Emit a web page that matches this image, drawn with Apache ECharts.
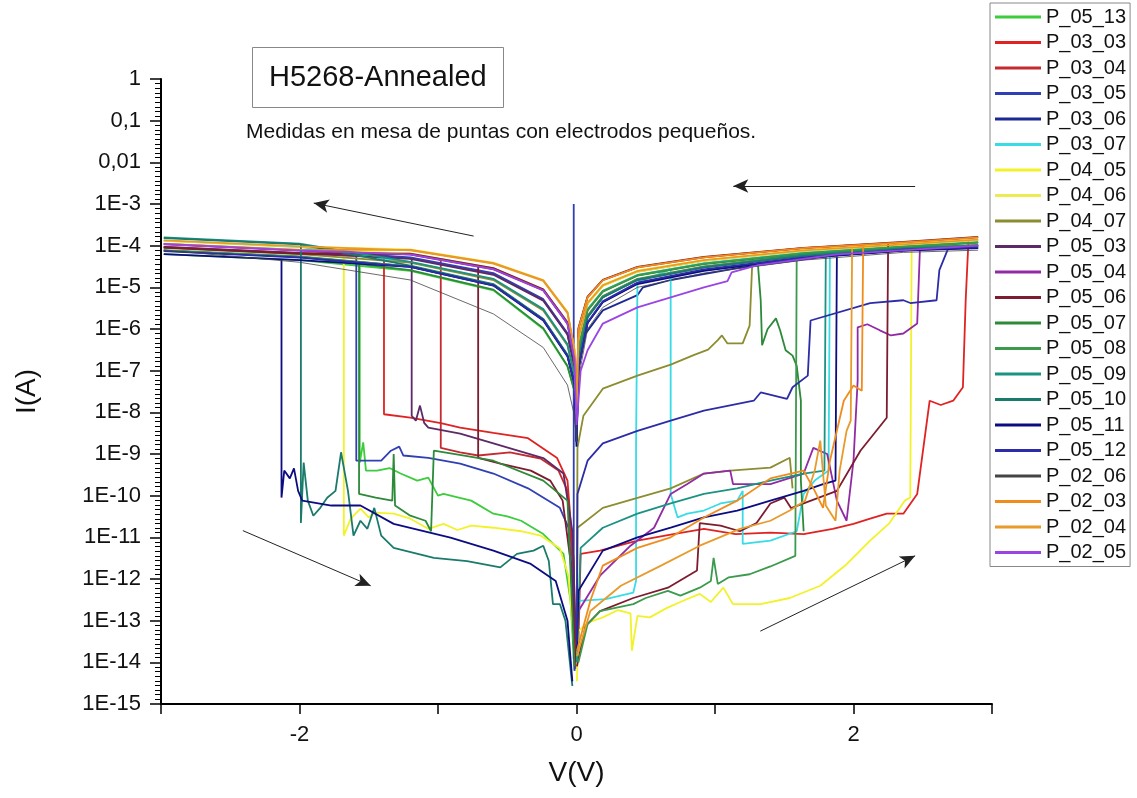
<!DOCTYPE html>
<html><head><meta charset="utf-8">
<script src="https://cdn.jsdelivr.net/npm/echarts@6/dist/echarts.min.js"></script>
<style>html,body{margin:0;padding:0;background:#fff}#c{width:1137px;height:798px}</style>
</head><body><div id="c"></div>
<script>
// ---------- names, ticks ----------
const seriesNames = ['P_05_13','P_03_03','P_03_04','P_03_05','P_03_06','P_03_07','P_04_05','P_04_06','P_04_07','P_05_03','P_05_04','P_05_06','P_05_07','P_05_08','P_05_09','P_05_10','P_05_11','P_05_12','P_02_06','P_02_03','P_02_04','P_02_05'];
const yTickLabels = ['1E-15','1E-14','1E-13','1E-12','1E-11','1E-10','1E-9','1E-8','1E-7','1E-6','1E-5','1E-4','1E-3','0,01','0,1','1'];
const xTickLabels = ['', '-2', '', '0', '', '2', ''];   // for V = -3 .. 3

// ---------- high-current branches (V grid shared) ----------
const hiV = [-2.98,-2,-1.2,-0.6,-0.24,-0.065,-0.015,0,0.014,0.08,0.19,0.44,0.92,1.64,2.36,2.9];
const hi_P_05_13 = [6.3e-5,4.5e-5,2.5e-5,8.5e-6,1.0e-6,1.26e-7,3.2e-8,3e-9,3.3e-7,2.9e-6,8.1e-6,1.95e-5,3.7e-5,6.6e-5,9.5e-5,1.2e-4];
const hi_P_03_03 = [9.1e-5,6.5e-5,5.0e-5,2.1e-5,5.0e-6,7.6e-7,1.26e-7,5e-9,5.75e-7,4.1e-6,1.1e-5,2.4e-5,4.4e-5,7.6e-5,1.07e-4,1.38e-4];
const hi_P_03_04 = [9.4e-5,6.7e-5,6.3e-5,2.8e-5,8.7e-6,1.38e-6,2.0e-7,8e-9,1.0e-6,5.75e-6,1.48e-5,3.0e-5,5.25e-5,8.7e-5,1.2e-4,1.58e-4];
const hi_P_03_05 = [1.10e-4,7.8e-5,5.2e-5,2.2e-5,5.2e-6,7.9e-7,1.3e-7,4e-9,1.9e-7,2.0e-6,6.0e-6,1.55e-5,3.1e-5,5.9e-5,8.7e-5,1.02e-4];
const hiPts_P_03_06 = [[-2.98,7.6e-5],[-2,5.4e-5],[-1.2,3.2e-5],[-0.6,1.15e-5],[-0.24,1.7e-6],[-0.065,2.3e-7],[-0.015,5.0e-8],[0,2e-9],[0.014,5.7e-8],[0.03,5.4e-7],[0.19,2.8e-6],[0.44,6.5e-6],[0.48,1e-5],[0.68,1.5e-5],[1.16,2.9e-5],[1.88,5.9e-5],[2.9,1.0e-4]];
const hi_P_03_07 = [1.32e-4,9.3e-5,4.0e-5,1.55e-5,2.95e-6,4.2e-7,7.9e-8,5e-9,3.4e-7,3.0e-6,8.3e-6,2.0e-5,3.8e-5,6.8e-5,9.7e-5,1.22e-4];
const hi_P_04_05 = [1.12e-4,8.0e-5,6.5e-5,2.9e-5,9.0e-6,1.42e-6,2.1e-7,1e-8,6.0e-7,4.3e-6,1.15e-5,2.5e-5,4.5e-5,7.8e-5,1.1e-4,1.4e-4];
const hi_P_04_06 = [1.3e-4,9.5e-5,8.1e-5,3.9e-5,1.5e-5,2.6e-6,3.3e-7,1.1e-8,5.6e-7,4.0e-6,1.08e-5,2.35e-5,4.3e-5,7.5e-5,1.05e-4,1.36e-4];
const hi_P_04_07 = [8.9e-5,6.3e-5,3.9e-5,1.5e-5,2.8e-6,4.0e-7,7.6e-8,4e-9,2.0e-7,2.1e-6,6.2e-6,1.6e-5,3.2e-5,6.0e-5,8.9e-5,1.04e-4];
const hi_P_05_03 = [9.3e-5,6.6e-5,4.8e-5,2.0e-5,4.8e-6,7.3e-7,1.2e-7,3e-9,1.1e-7,1.41e-6,4.5e-6,1.26e-5,2.6e-5,5.1e-5,7.8e-5,8.9e-5];
const hi_P_05_04 = [1.08e-4,7.6e-5,6.1e-5,2.7e-5,8.4e-6,1.32e-6,1.9e-7,5e-9,1.85e-7,1.95e-6,5.8e-6,1.5e-5,3.0e-5,5.8e-5,8.5e-5,1.0e-4];
const hi_P_05_06 = [9.0e-5,6.4e-5,6.4e-5,2.9e-5,9.0e-6,1.45e-6,2.1e-7,1e-8,1.05e-6,6.0e-6,1.52e-5,3.1e-5,5.4e-5,8.9e-5,1.23e-4,1.62e-4];
const hi_P_05_07 = [7.6e-5,5.4e-5,2.6e-5,8.8e-6,1.05e-6,1.3e-7,3.3e-8,2e-9,3.2e-7,2.8e-6,7.9e-6,1.9e-5,3.6e-5,6.4e-5,9.3e-5,1.18e-4];
const hi_P_05_08 = [7.8e-5,5.5e-5,3.2e-5,1.15e-5,1.7e-6,2.3e-7,5.0e-8,3e-9,3.3e-7,2.9e-6,8.1e-6,1.95e-5,3.7e-5,6.6e-5,9.5e-5,1.2e-4];
const hi_P_05_09 = [1.58e-4,1.12e-4,4.1e-5,1.6e-5,3.0e-6,4.3e-7,8.0e-8,3e-9,1.9e-7,2.0e-6,6.0e-6,1.55e-5,3.1e-5,5.9e-5,8.7e-5,1.02e-4];
const hi_P_05_10 = [1.52e-4,1.08e-4,3.3e-5,1.2e-5,1.75e-6,2.4e-7,5.2e-8,2e-9,1.8e-7,1.9e-6,5.7e-6,1.5e-5,3.0e-5,5.7e-5,8.5e-5,9.9e-5];
const hi_P_05_11 = [6.3e-5,4.5e-5,3.1e-5,1.1e-5,1.6e-6,2.2e-7,4.8e-8,1.5e-9,1.1e-7,1.4e-6,4.4e-6,1.2e-5,2.5e-5,5.0e-5,7.6e-5,8.7e-5];
const hi_P_05_12 = [7.4e-5,5.2e-5,3.1e-5,1.12e-5,1.65e-6,2.25e-7,4.9e-8,2e-9,1.15e-7,1.45e-6,4.6e-6,1.3e-5,2.7e-5,5.2e-5,8.0e-5,9.1e-5];
const hi_P_02_06 = [7.8e-5,4.0e-5,1.5e-5,2.3e-6,3.6e-7,4.5e-8,8.3e-9,2e-9,6.3e-8,1.0e-6,3.3e-6,1.0e-5,2.2e-5,4.5e-5,6.9e-5,7.8e-5];
const hi_P_02_03 = [1.1e-4,7.9e-5,7.9e-5,3.8e-5,1.48e-5,2.5e-6,3.2e-7,1e-8,1.0e-6,5.75e-6,1.48e-5,3.0e-5,5.25e-5,8.7e-5,1.2e-4,1.58e-4];
const hi_P_02_04 = [1.34e-4,9.6e-5,7.7e-5,3.7e-5,1.42e-5,2.4e-6,3.1e-7,9e-9,5.9e-7,4.2e-6,1.12e-5,2.45e-5,4.5e-5,7.7e-5,1.08e-4,1.39e-4];
const hiPts_P_02_05 = [[-2.98,1.1e-4],[-2,7.7e-5],[-1.2,6.2e-5],[-0.6,2.75e-5],[-0.24,8.5e-6],[-0.065,1.35e-6],[-0.015,1.9e-7],[0,5e-9],[0.014,1.9e-8],[0.03,1e-7],[0.08,3.1e-7],[0.19,1.35e-6],[0.44,3.3e-6],[0.92,1e-5],[1.09,1.4e-5],[1.12,2.3e-5],[1.31,3.4e-5],[1.88,6.2e-5],[2.9,1.0e-4]];

// ---------- low-current segments with switching jumps [V, I] ----------
const lowL_P_05_13 = [[-1.565,3.4e-5],[-1.565,6.2e-10],[-1.54,1.9e-9],[-1.52,4e-10],[-1.44,4e-10],[-1.35,4.6e-10],[-1.27,3.4e-10],[-1.15,2.3e-10],[-1.07,2.7e-10],[-1.0,1e-10],[-0.96,1.1e-10],[-0.85,9e-11],[-0.76,7.6e-11],[-0.6,3.7e-11],[-0.5,3.2e-11],[-0.4,2.5e-11],[-0.24,1.2e-11],[-0.094,4e-12],[-0.043,3e-13],[-0.014,6.3e-15]];
const lowL_P_03_03 = [[-1.39,5.3e-5],[-1.39,9e-9],[-1.2,7.5e-9],[-0.98,5.5e-9],[-0.84,4.3e-9],[-0.6,3.2e-9],[-0.35,2.4e-9],[-0.14,8e-10],[-0.065,2.3e-10],[-0.02,2.7e-12],[-0.007,1e-14]];
const lowR_P_03_03 = [[0.014,3e-14],[0.03,4e-12],[0.17,4.8e-12],[0.44,8.3e-12],[0.7,1.2e-11],[0.92,1.6e-11],[1.15,1.2e-11],[1.4,1.3e-11],[1.64,1.2e-11],[1.85,1.6e-11],[2.0,2.1e-11],[2.12,2.8e-11],[2.24,3.7e-11],[2.36,3.7e-11],[2.46,1.1e-10],[2.55,1.9e-8],[2.63,1.5e-8],[2.72,1.9e-8],[2.79,4e-8],[2.81,4.9e-6],[2.83,1.3e-4]];
const lowL_P_03_04 = [[-0.98,4.7e-5],[-0.98,1.4e-9],[-0.84,1.1e-9],[-0.71,9.2e-10],[-0.48,1.1e-9],[-0.26,7.8e-10],[-0.13,4e-10],[-0.065,1.3e-10],[-0.03,2.7e-12],[-0.007,7e-15]];
const lowL_P_03_05 = [[-1.59,6.3e-5],[-1.59,6.9e-10],[-1.41,6.9e-10],[-1.34,1.2e-9],[-1.28,1.5e-9],[-1.25,9.2e-10],[-1.07,8.1e-10],[-0.84,5.9e-10],[-0.6,3.4e-10],[-0.35,1.5e-10],[-0.12,5.1e-11],[-0.058,1.7e-11],[-0.03,9e-13],[-0.014,6.3e-15]];
const spike_P_03_05 = [[-0.02,1.2e-14],[-0.02,1e-3]];
const lowR_P_03_07 = [[0.014,3e-13],[0.21,3.3e-13],[0.41,4.7e-13],[0.43,9e-13],[0.43,1.6e-9],[0.44,1.3e-5],[0.68,2.7e-5],[0.68,1.1e-10],[0.73,3e-11],[0.8,3.7e-11],[0.92,4.4e-11],[1.04,6.5e-11],[1.16,7.6e-11],[1.2,1.3e-10],[1.2,7e-12],[1.4,8.3e-12],[1.59,1.4e-11],[1.64,1.1e-10],[1.72,2.3e-10],[1.82,4e-10],[1.83,7e-5]];
const lowL_P_04_05 = [[-1.68,7.1e-5],[-1.68,1.1e-11],[-1.63,2.8e-11],[-1.56,4.9e-11],[-1.5,3e-11],[-1.46,3.9e-11],[-1.32,3.7e-11],[-1.2,2.8e-11],[-1.07,1.6e-11],[-0.96,2.1e-11],[-0.86,1.5e-11],[-0.76,1.9e-11],[-0.6,1.7e-11],[-0.4,1.4e-11],[-0.26,1.1e-11],[-0.12,5.4e-12],[-0.058,1.2e-12],[-0.02,3.2e-14]];
const lowR_P_04_05 = [[0.003,3.5e-15],[0.014,5.6e-14],[0.08,8.9e-14],[0.19,1.2e-13],[0.3,1.8e-13],[0.39,1.5e-13],[0.4,1.9e-14],[0.44,1.3e-13],[0.53,1.2e-13],[0.65,2e-13],[0.77,3e-13],[0.89,4.4e-13],[0.97,2.8e-13],[1.06,6.2e-13],[1.13,2.5e-13],[1.33,2.5e-13],[1.54,3.5e-13],[1.76,6.9e-13],[1.94,2.1e-12],[2.12,8.3e-12],[2.26,2.2e-11],[2.37,7.6e-11],[2.41,9e-11],[2.42,1.1e-4]];
const lowR_P_04_07 = [[0.003,3e-13],[0.007,1.4e-9],[0.05,8.3e-9],[0.19,3.7e-8],[0.44,7.6e-8],[0.68,1.4e-7],[0.85,2.4e-7],[0.95,3.2e-7],[1.02,5.4e-7],[1.05,7e-7],[1.09,4.5e-7],[1.2,4.5e-7],[1.25,1.2e-6],[1.27,4.6e-5]];
const low2_P_04_07 = [[0.003,3.2e-14],[0.007,1.7e-11],[0.19,5.1e-11],[0.44,8.9e-11],[0.68,1.5e-10],[0.92,3.4e-10],[1.11,4e-10],[1.4,4.7e-10],[1.54,8.1e-10],[1.56,1.5e-10]];
const lowL_P_05_03 = [[-1.19,5e-5],[-1.19,8.3e-9],[-1.16,6.3e-9],[-1.13,1.45e-8],[-1.10,5.6e-9],[-1.07,4.3e-9],[-0.84,3.1e-9],[-0.6,1.8e-9],[-0.24,8e-10],[-0.094,3.4e-10],[-0.03,1.4e-11],[-0.003,3.2e-14]];
const lowR_P_05_04 = [[0.014,1.7e-13],[0.17,1.2e-12],[0.39,6.3e-12],[0.56,1.7e-11],[0.68,1.1e-10],[0.8,1.9e-10],[0.92,3.4e-10],[1.11,4e-10],[1.13,1.9e-10],[1.4,1.9e-10],[1.64,3.4e-10],[1.71,1.4e-9],[1.81,1e-9],[1.88,7.6e-11],[1.95,2.5e-11],[2.0,6.9e-10],[2.03,5.8e-8],[2.03,1.1e-6],[2.1,1.3e-6],[2.19,9.3e-7],[2.27,7e-7],[2.36,7.8e-7],[2.46,1.35e-6],[2.48,9e-5]];
const lowL_P_05_06 = [[-0.71,3.3e-5],[-0.71,8.1e-10],[-0.55,5.9e-10],[-0.33,4e-10],[-0.19,2.3e-10],[-0.1,7.6e-11],[-0.043,2.7e-12],[-0.007,1e-14]];
const lowR_P_05_06 = [[0.003,8e-15],[0.065,7.4e-14],[0.17,1.7e-13],[0.41,3.5e-13],[0.66,6.2e-13],[0.87,1.6e-12],[0.89,2.2e-11],[1.04,1.9e-11],[1.18,1.4e-11],[1.3,2.2e-11],[1.4,6.5e-11],[1.5,9e-11],[1.55,5e-11],[1.64,6.5e-11],[1.88,1.3e-10],[2.05,1.2e-9],[2.24,7.4e-9],[2.25,1.15e-4]];
const lowL_P_05_07 = [[-1.57,3.7e-5],[-1.57,1.1e-10],[-1.45,9e-11],[-1.33,7.6e-11],[-1.32,1e-9],[-1.31,5.8e-11],[-1.2,3.3e-11],[-1.09,2.5e-11],[-1.05,1.4e-11],[-1.03,1.2e-9],[-0.8,9e-10],[-0.6,6.9e-10],[-0.24,2.3e-10],[-0.065,7.6e-11],[-0.043,1.6e-12],[-0.014,8e-15]];
const jag_P_05_07 = [[1.31,3.5e-5],[1.33,4.9e-6],[1.34,4.1e-7],[1.38,1e-6],[1.44,1.8e-6],[1.47,9.3e-7],[1.51,3.1e-7],[1.56,2.3e-7],[1.59,1.3e-7],[1.62,1.9e-8],[1.62,2.3e-10],[1.64,1.4e-11]];
const lowR_P_05_08 = [[0.014,1e-14],[0.08,8.3e-14],[0.17,1.7e-13],[0.41,2.5e-13],[0.5,3.5e-13],[0.66,5.2e-13],[0.75,4e-13],[0.89,6.2e-13],[0.97,9e-13],[0.99,3.2e-12],[1.02,7.6e-13],[1.1,1.1e-12],[1.25,1.3e-12],[1.4,2e-12],[1.58,3.6e-12],[1.59,6.6e-5]];
const lowR_P_05_09 = [[0.003,1e-14],[0.03,5.6e-12],[0.19,1.7e-11],[0.44,3.7e-11],[0.68,6.5e-11],[0.92,1.1e-10],[1.16,1.5e-10],[1.4,2.3e-10],[1.64,3.4e-10],[1.79,4e-10],[1.8,6.5e-5]];
const lowL_P_05_10 = [[-1.99,1.1e-4],[-1.99,2.2e-11],[-1.97,6.2e-10],[-1.94,7.6e-11],[-1.9,3.3e-11],[-1.85,5.1e-11],[-1.8,8.9e-11],[-1.74,1.3e-10],[-1.7,1.1e-9],[-1.65,1.3e-10],[-1.61,1.1e-11],[-1.56,2.5e-11],[-1.51,1.6e-11],[-1.46,5.1e-11],[-1.41,1.1e-11],[-1.32,5.6e-12],[-1.03,3.2e-12],[-0.79,2.7e-12],[-0.55,1.9e-12],[-0.43,4e-12],[-0.31,4.8e-12],[-0.24,6.3e-12],[-0.2,2.7e-12],[-0.17,2.5e-13],[-0.12,2.5e-13],[-0.08,1e-13],[-0.03,2.7e-15]];
const lowL_P_05_11 = [[-2.13,4.7e-5],[-2.13,9e-11],[-2.11,4e-10],[-2.07,2.6e-10],[-2.04,4.5e-10],[-2.01,1.3e-10],[-1.98,7.6e-11],[-1.77,5.8e-11],[-1.56,5.8e-11],[-1.32,2.1e-11],[-0.91,9.8e-12],[-0.6,4.8e-12],[-0.33,2.3e-12],[-0.15,9e-13],[-0.065,1e-13],[-0.03,3.5e-15]];
const lowR_P_05_11 = [[0.003,1.9e-14],[0.014,5.2e-13],[0.19,4.8e-12],[0.44,1e-11],[0.68,1.7e-11],[0.92,3e-11],[1.16,4.4e-11],[1.4,7.6e-11],[1.64,1.3e-10],[1.78,1.9e-10],[1.87,2.3e-10],[1.88,5.5e-5]];
const lowR_P_05_12 = [[0.003,3.2e-14],[0.007,1.1e-10],[0.08,6.9e-10],[0.19,1.8e-9],[0.44,3.6e-9],[0.68,6.3e-9],[0.92,1.1e-8],[1.28,1.9e-8],[1.33,3e-8],[1.52,2.1e-8],[1.56,4e-8],[1.67,7.6e-8],[1.69,1.6e-6],[2.12,4.2e-6],[2.36,4.9e-6],[2.41,4.2e-6],[2.6,4.9e-6],[2.62,2.6e-5],[2.68,8e-5]];
const lowR_P_02_03 = [[0.003,1.9e-14],[0.1,3e-13],[0.19,2.1e-12],[0.44,5.6e-12],[0.68,1e-11],[0.92,3e-11],[1.16,7.6e-11],[1.4,2.6e-10],[1.64,4e-10],[1.72,1.3e-10],[1.78,5.1e-11],[1.83,6.9e-10],[1.93,1.9e-8],[2.0,4.4e-8],[2.06,3.3e-8],[2.07,1.05e-4]];
const lowR_P_02_04 = [[0.003,1.4e-14],[0.1,1.7e-13],[0.32,6.9e-13],[0.61,2.1e-12],[0.89,6.3e-12],[1.18,1.6e-11],[1.4,2.5e-11],[1.54,4.4e-11],[1.65,7.6e-11],[1.72,4e-10],[1.76,2.1e-9],[1.8,5.8e-11],[1.87,2.5e-11],[1.9,4e-10],[1.95,3.6e-9],[1.98,6.3e-9],[1.99,8.5e-5]];

// ---------- sweep-direction arrows (data coords) ----------
const arrowLines = [
  [[-0.743,1.7e-4],[-1.897,1.05e-3]],
  [[2.445,2.7e-3],[1.132,2.7e-3]],
  [[-2.409,1.45e-11],[-1.486,6.9e-13]],
  [[1.327,5.6e-14],[2.445,3.6e-12]]
];

// ---------- styles ----------
const colors = {
  P_05_13:'#3ccc3c', P_03_03:'#e02222', P_03_04:'#c42a30', P_03_05:'#3040b4', P_03_06:'#1c2894',
  P_03_07:'#38dce6', P_04_05:'#f2f22a', P_04_06:'#ecec50', P_04_07:'#8c8c30', P_05_03:'#5c2a66',
  P_05_04:'#922aa4', P_05_06:'#7c1c2e', P_05_07:'#2c8a38', P_05_08:'#3c9a4c', P_05_09:'#1c9282',
  P_05_10:'#1a7a6c', P_05_11:'#0c0c82', P_05_12:'#2c2ca8', P_02_06:'#444444', P_02_03:'#f08c1c',
  P_02_04:'#e89a2a', P_02_05:'#9a44e4'
};

const samples = [
  {n:'P_05_13', hi:hi_P_05_13, segs:[lowL_P_05_13]},
  {n:'P_03_03', hi:hi_P_03_03, segs:[lowL_P_03_03, lowR_P_03_03]},
  {n:'P_03_04', hi:hi_P_03_04, segs:[lowL_P_03_04]},
  {n:'P_03_05', hi:hi_P_03_05, segs:[lowL_P_03_05, spike_P_03_05]},
  {n:'P_03_06', pts:hiPts_P_03_06, segs:[]},
  {n:'P_03_07', hi:hi_P_03_07, segs:[lowR_P_03_07]},
  {n:'P_04_05', hi:hi_P_04_05, segs:[lowL_P_04_05, lowR_P_04_05]},
  {n:'P_04_06', hi:hi_P_04_06, segs:[]},
  {n:'P_04_07', hi:hi_P_04_07, segs:[lowR_P_04_07, low2_P_04_07]},
  {n:'P_05_03', hi:hi_P_05_03, segs:[lowL_P_05_03]},
  {n:'P_05_04', hi:hi_P_05_04, segs:[lowR_P_05_04]},
  {n:'P_05_06', hi:hi_P_05_06, segs:[lowL_P_05_06, lowR_P_05_06]},
  {n:'P_05_07', hi:hi_P_05_07, segs:[lowL_P_05_07, jag_P_05_07]},
  {n:'P_05_08', hi:hi_P_05_08, segs:[lowR_P_05_08]},
  {n:'P_05_09', hi:hi_P_05_09, segs:[lowR_P_05_09]},
  {n:'P_05_10', hi:hi_P_05_10, segs:[lowL_P_05_10]},
  {n:'P_05_11', hi:hi_P_05_11, segs:[lowL_P_05_11, lowR_P_05_11]},
  {n:'P_05_12', hi:hi_P_05_12, segs:[lowR_P_05_12]},
  {n:'P_02_06', hi:hi_P_02_06, segs:[], thin:true},
  {n:'P_02_03', hi:hi_P_02_03, segs:[lowR_P_02_03]},
  {n:'P_02_04', hi:hi_P_02_04, segs:[lowR_P_02_04]},
  {n:'P_02_05', pts:hiPts_P_02_05, segs:[]}
];

const FONT = 'Liberation Sans, Arial, sans-serif';
const series = [];
samples.forEach(s => {
  const c = colors[s.n];
  const w = s.thin ? 0.8 : 1.8;
  const hiData = s.pts ? s.pts : hiV.map((v, i) => [v, s.hi[i]]);
  [hiData].concat(s.segs).forEach(d => {
    series.push({
      type:'line', name:s.n, data:d, showSymbol:false, symbol:'none',
      lineStyle:{color:c, width:w}, itemStyle:{color:c},
      animation:false, silent:true, clip:true
    });
  });
});
// arrows
series.push({
  type:'line', name:'arrows', data:[], silent:true, animation:false,
  markLine:{
    silent:true, animation:false, symbol:['none','arrow'], symbolSize:[10,15],
    label:{show:false}, lineStyle:{color:'#222', width:1, type:'solid'},
    emphasis:{disabled:true},
    data: arrowLines.map(a => [{coord:a[0]}, {coord:a[1]}])
  }
});

const chart = echarts.init(document.getElementById('c'), null, {renderer:'canvas'});
chart.setOption({
  animation:false,
  backgroundColor:'#fff',
  title:[
    {text:'H5268-Annealed', left:252, top:47, padding:[16,17,16,17], borderColor:'#888', borderWidth:1,
     textStyle:{fontSize:29, fontWeight:'normal', fontFamily:FONT, color:'#111'}},
    {text:'Medidas en mesa de puntas con electrodos pequeños.', left:246, top:122, padding:0,
     textStyle:{fontSize:21, fontWeight:'normal', fontFamily:FONT, color:'#111'}}
  ],
  legend:{
    data:seriesNames, orient:'vertical', left:990, top:3, padding:[4,4,4,5],
    itemGap:5.5, itemWidth:46, itemHeight:3, icon:'rect', selectedMode:false,
    borderColor:'#888', borderWidth:1, backgroundColor:'#fff',
    textStyle:{fontSize:20, lineHeight:20, fontFamily:FONT, color:'#111'}
  },
  grid:{left:161, right:145, top:79, bottom:94},
  xAxis:{
    type:'value', min:-3, max:3, interval:1,
    name:'V(V)', nameLocation:'middle', nameGap:55,
    nameTextStyle:{fontSize:28, fontFamily:FONT, color:'#111'},
    axisLine:{show:true, onZero:false, lineStyle:{color:'#000', width:2}},
    axisTick:{show:true, length:10, lineStyle:{color:'#000', width:1.5}},
    axisLabel:{fontSize:22, fontFamily:FONT, color:'#111', margin:20,
      formatter: v => xTickLabels[Math.round(v) + 3] || ''},
    splitLine:{show:false}
  },
  yAxis:[{
    type:'log', logBase:10, min:1e-15, max:1, interval:1, splitNumber:15,
    name:'I(A)', nameLocation:'middle', nameGap:120,
    nameTextStyle:{fontSize:28, fontFamily:FONT, color:'#111'},
    axisLine:{show:true, onZero:false, lineStyle:{color:'#000', width:2}},
    axisTick:{show:true, length:11, lineStyle:{color:'#000', width:1.5}},
    axisLabel:{fontSize:22, fontFamily:FONT, color:'#111', margin:20,
      formatter: v => yTickLabels[Math.round(Math.log10(v)) + 15] || ''},
    splitLine:{show:false}, minorSplitLine:{show:false}
  },{
    // companion axis in decades, only to draw the minor tick marks of each decade
    type:'value', min:-15, max:0, interval:1, position:'left', offset:0,
    axisLine:{show:false, onZero:false}, axisLabel:{show:false},
    axisTick:{show:true, length:11, lineStyle:{color:'#000', width:1.5}},
    minorTick:{show:true, splitNumber:9, length:6, lineStyle:{color:'#000', width:1}},
    splitLine:{show:false}, minorSplitLine:{show:false}
  }],
  series: series
});
</script></body></html>
